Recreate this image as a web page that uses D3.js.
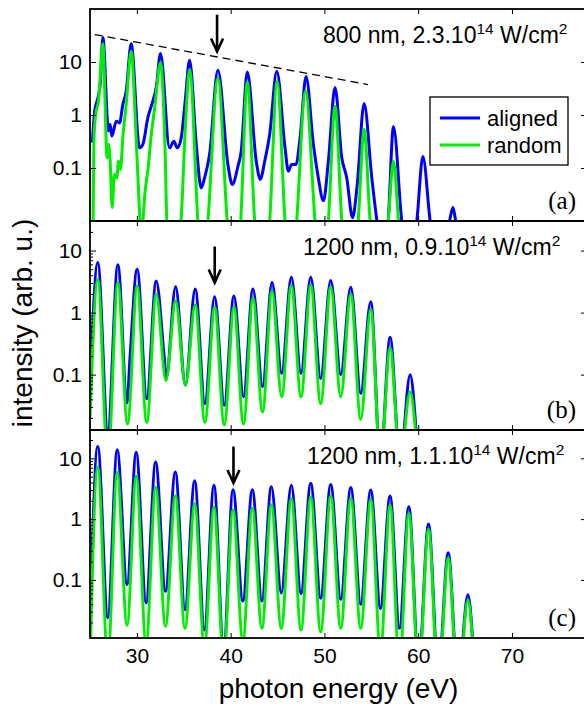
<!DOCTYPE html>
<html>
<head>
<meta charset="utf-8">
<script src="https://cdn.jsdelivr.net/npm/d3@7"></script>
<style>
body { margin: 0; background: #fff; }
text { font-family: "Liberation Sans", Arial, Helvetica, sans-serif; fill: #000; }
</style>
</head>
<body>
<svg id="chart"></svg>
<script>
// photon energy (eV) vs intensity (arb. u.)
const energyTicks = [30, 40, 50, 60, 70];
const intensityTicks = [0.1, 1, 10];
const conditions = ["800 nm, 2.3.10", "1200 nm, 0.9.10", "1200 nm, 1.1.10"];
const panelLetters = ["(a)", "(b)", "(c)"];
const seriesNames = ["aligned", "random"];

// (a) 800 nm
const alignedA = [[25.25,0.3],[25.5,1.2],[25.9,2.3],[26.1,4],[26.37,29],[26.97,0.5],[27.15,0.66],[27.33,0.4],[27.8,0.76],[28.15,0.71],[28.5,1.58],[28.86,2.8],[29.39,22],[30.28,0.24],[30.64,0.28],[31.17,0.89],[31.7,1.82],[32.06,3.26],[32.52,14.5],[33.48,0.24],[33.95,0.32],[34.3,0.24],[34.73,0.37],[35.15,1.82],[35.62,10.8],[36.33,0.28],[36.86,0.042],[37.22,0.065],[37.75,0.18],[38.64,7],[39.71,0.116],[40.17,0.049],[40.78,0.108],[41.13,0.21],[41.77,6.5],[42.73,0.134],[43.16,0.061],[43.63,0.134],[44.16,0.43],[44.92,6.7],[45.8,0.24],[46.15,0.087],[46.5,0.116],[46.97,0.116],[47.4,0.37],[48.04,5.3],[48.82,0.28],[49.35,0.065],[49.89,0.024],[50.42,0.134],[51.13,3.3],[51.85,0.156],[52.38,0.065],[53.0,0.0115],[53.5,0.049],[54.23,1.65],[55.05,0.065],[55.6,0.01],[56.2,0.002],[56.8,0.01],[57.36,0.6],[58.25,0.01],[59.05,0.002],[59.85,0.01],[60.5,0.165],[61.27,0.01],[62.3,0.001],[63.35,0.01],[63.7,0.018],[64.0,0.01],[65,0.001]];
const randomA = [[25.2,0.001],[25.33,0.01],[25.42,0.34],[25.6,1.0],[25.9,1.8],[26.37,22],[26.83,0.156],[26.98,0.28],[27.15,0.134],[27.36,0.018],[27.6,0.075],[27.86,0.065],[28.04,0.134],[28.25,0.094],[28.5,0.37],[28.86,1.58],[29.39,16],[29.92,0.37],[30.28,0.015],[30.45,0.005],[30.9,0.04],[31.2,0.1],[31.5,0.37],[31.9,1.37],[32.52,9.7],[33.02,0.18],[33.2,0.01],[33.6,0.004],[33.95,0.009],[34.3,0.004],[34.7,0.01],[35.15,0.5],[35.62,7.2],[36.5,0.01],[37.0,0.0005],[37.58,0.01],[38.64,4.9],[39.63,0.01],[40.35,0.0005],[41.07,0.01],[41.77,4.2],[42.56,0.01],[43.4,0.0005],[44.16,0.01],[44.95,4.3],[45.8,0.01],[46.4,0.0005],[47.04,0.01],[47.98,2.8],[49.0,0.01],[49.7,0.0005],[50.42,0.01],[51.13,1.47],[51.85,0.01],[52.7,0.0005],[53.6,0.01],[54.23,0.53],[54.87,0.01],[55.8,0.0005],[56.8,0.01],[57.36,0.134],[57.9,0.01],[58.6,0.0005],[65,0.0001]];

// (b) 1200 nm, 0.9e14
const alignedB = [[25.0,0.06],[25.83,6.4],[26.9,0.012],[27.97,5.9],[28.95,0.035],[29.25,0.17],[30.03,5.0],[31.05,0.041],[32.06,3.24],[32.88,0.22],[33.13,0.09],[34.13,2.62],[35.17,0.068],[36.22,2.41],[37.25,0.034],[38.29,1.81],[39.32,0.032],[40.35,1.86],[41.37,0.044],[42.38,2.41],[43.4,0.064],[44.41,3.05],[45.44,0.105],[46.47,3.72],[47.5,0.105],[48.54,3.72],[49.6,0.087],[50.67,3.28],[51.74,0.1],[52.81,2.57],[53.87,0.05],[54.94,1.5],[55.97,0.004],[57.0,0.4],[58.07,0.004],[59.14,0.1],[60.2,0.003],[62,0.001]];
const randomB = [[25.0,0.02],[25.83,3.46],[26.9,0.004],[27.97,3.05],[29.0,0.016],[30.03,2.7],[31.05,0.017],[32.06,1.98],[33.1,0.08],[34.13,1.56],[35.17,0.068],[36.22,1.33],[37.25,0.017],[38.29,1.22],[39.32,0.0155],[40.35,1.22],[41.37,0.016],[42.38,1.7],[43.4,0.025],[44.41,2.24],[45.44,0.044],[46.47,2.72],[47.5,0.044],[48.54,2.75],[49.6,0.034],[50.67,2.62],[51.74,0.044],[52.81,2.0],[53.87,0.019],[54.94,1.13],[55.97,0.004],[57.0,0.27],[58.07,0.004],[59.14,0.053],[60.2,0.003],[62,0.001]];

// (c) 1200 nm, 1.1e14
const alignedC = [[24.9,0.004],[25.83,15.7],[26.9,0.024],[27.9,13.8],[28.95,0.084],[29.93,12.6],[30.98,0.042],[32.0,8.7],[33.05,0.065],[34.1,5.95],[35.13,0.0325],[36.16,4.28],[37.2,0.015],[38.22,3.6],[39.25,0.007],[40.25,3.05],[41.3,0.045],[42.31,3.05],[43.33,0.045],[44.34,3.4],[45.4,0.061],[46.47,3.6],[47.5,0.06],[48.54,3.9],[49.6,0.05],[50.67,3.7],[51.74,0.048],[52.81,3.3],[53.87,0.04],[54.94,3.0],[55.97,0.034],[57.0,2.4],[58.0,0.016],[59.0,1.6],[60.05,0.004],[61.1,0.83],[62.15,0.003],[63.2,0.28],[64.25,0.002],[65.3,0.057],[66.4,0.001],[70,0.0005]];
const randomC = [[24.9,0.001],[25.83,7.1],[26.9,0.005],[27.9,5.9],[28.95,0.018],[29.93,5.06],[30.98,0.009],[32.0,3.33],[33.05,0.0174],[34.1,2.43],[35.13,0.016],[36.16,1.79],[37.2,0.008],[38.22,1.57],[39.25,0.005],[40.25,1.43],[41.3,0.01],[42.31,1.53],[43.33,0.016],[44.34,1.73],[45.4,0.016],[46.47,2.17],[47.5,0.015],[48.54,2.3],[49.6,0.014],[50.67,2.4],[51.74,0.016],[52.81,2.2],[53.87,0.016],[54.94,2.1],[55.97,0.007],[57.0,1.71],[58.0,0.004],[59.0,1.25],[60.05,0.003],[61.1,0.68],[62.15,0.002],[63.2,0.23],[64.25,0.0015],[65.3,0.047],[66.4,0.001],[70,0.0005]];

// arrows: energy, tail and tip intensity
const arrowEnergy = [38.55, 38.3, 40.3];
const arrowTail = [78, 11.6, 15.7];
const arrowTip = [15.8, 3.05, 3.93];
// dashed guide in (a)
const guideEnergy = [25.5, 54.65];
const guideIntensity = [33, 3.76];

const W = 584, H = 706;
const left = 90, right = 587;
const panels = [
	{ top: 9, bottom: 221, yDomain: [0.01, 100], minor: false, textX: 323, aligned: alignedA, random: randomA },
	{ top: 221, bottom: 430, yDomain: [0.0128, 30], minor: true, textX: 303, aligned: alignedB, random: randomB },
	{ top: 430, bottom: 638, yDomain: [0.0111, 29.2], minor: true, textX: 307, aligned: alignedC, random: randomC }
];
const blue = "#0000ff", green = "#00ee00";

const svg = d3.select("#chart").attr("width", W).attr("height", H);

const x = d3.scaleLinear().domain([25, 78]).range([left, right]);

panels.forEach(function (p, i) {
	const y = d3.scaleLog().domain(p.yDomain).range([p.bottom, p.top]);
	const g = svg.append("g");

	const clipId = "clip" + i;
	svg.append("clipPath").attr("id", clipId)
		.append("rect").attr("x", left).attr("y", p.top)
		.attr("width", right - left).attr("height", p.bottom - p.top);

	const line = d3.line()
		.x(function (d) { return x(d[0]); })
		.y(function (d) { return y(d[1]); })
		.curve(d3.curveMonotoneX);

	const plot = g.append("g").attr("clip-path", "url(#" + clipId + ")");
	plot.append("path").datum(p.aligned)
		.attr("d", line).attr("fill", "none").attr("stroke", blue)
		.attr("stroke-width", 3).attr("stroke-linejoin", "round");
	plot.append("path").datum(p.random)
		.attr("d", line).attr("fill", "none").attr("stroke", green)
		.attr("stroke-width", 3).attr("stroke-linejoin", "round");

	// axes, ticks pointing inward
	const yl = g.append("g").attr("transform", "translate(" + left + ",0)")
		.call(d3.axisLeft(y).tickValues(intensityTicks).tickSize(-6).tickPadding(8)
			.tickFormat(function (d) { return String(d); }));
	yl.selectAll("text").style("font-size", "21px");
	g.append("g").attr("transform", "translate(" + right + ",0)")
		.call(d3.axisRight(y).tickValues(intensityTicks).tickSize(-6).tickFormat(""));
	if (p.minor) {
		const minors = [];
		[0.01, 0.1, 1, 10].forEach(function (dec) {
			for (let k = 2; k <= 9; k++) {
				const v = dec * k;
				if (v > p.yDomain[0] && v < p.yDomain[1]) minors.push(v);
			}
		});
		g.append("g").attr("transform", "translate(" + left + ",0)")
			.call(d3.axisLeft(y).tickValues(minors).tickSize(-3).tickFormat(""));
		g.append("g").attr("transform", "translate(" + right + ",0)")
			.call(d3.axisRight(y).tickValues(minors).tickSize(-3).tickFormat(""));
	}
	g.append("g").attr("transform", "translate(0," + p.top + ")")
		.call(d3.axisTop(x).tickValues(energyTicks).tickSize(-5).tickFormat(""));
	const xb = g.append("g").attr("transform", "translate(0," + p.bottom + ")")
		.call(d3.axisBottom(x).tickValues(energyTicks).tickSize(-5).tickPadding(10)
			.tickFormat(i === 2 ? d3.format("d") : ""));
	xb.selectAll("text").style("font-size", "21px");
	g.selectAll(".domain").remove();
	g.selectAll(".tick line").attr("stroke-width", 1);

	g.append("rect").attr("x", left).attr("y", p.top)
		.attr("width", right - left).attr("height", p.bottom - p.top)
		.attr("fill", "none").attr("stroke", "#000").attr("stroke-width", 1.8);

	// condition label
	const t = g.append("text").attr("x", p.textX).attr("y", p.top + 34)
		.style("font-size", "23px");
	t.append("tspan").text(conditions[i]);
	t.append("tspan").attr("dy", -9).style("font-size", "15.5px").text("14");
	t.append("tspan").attr("dy", 9).text(" W/cm");
	t.append("tspan").attr("dy", -9).style("font-size", "15.5px").text("2");

	g.append("text").attr("x", 576).attr("y", p.bottom - 12)
		.attr("text-anchor", "end")
		.style("font-family", "'Liberation Serif', 'Times New Roman', serif")
		.style("font-size", "25px")
		.text(panelLetters[i]);

	// arrow
	const ax = x(arrowEnergy[i]), ay0 = y(arrowTail[i]), ay1 = y(arrowTip[i]);
	g.append("path")
		.attr("d", "M" + ax + "," + ay0 + "L" + ax + "," + ay1 +
			"M" + (ax - 6) + "," + (ay1 - 13) + "L" + ax + "," + ay1 + "L" + (ax + 6) + "," + (ay1 - 13))
		.attr("fill", "none").attr("stroke", "#000").attr("stroke-width", 2.6);

	if (i === 0) {
		g.append("line")
			.attr("x1", x(guideEnergy[0])).attr("y1", y(guideIntensity[0]))
			.attr("x2", x(guideEnergy[1])).attr("y2", y(guideIntensity[1]))
			.attr("stroke", "#000").attr("stroke-width", 1.3)
			.attr("stroke-dasharray", "8,5");

		const lg = g.append("g");
		lg.append("rect").attr("x", 430).attr("y", 97).attr("width", 138).attr("height", 68)
			.attr("fill", "#fff").attr("stroke", "#000").attr("stroke-width", 1.3);
		[blue, green].forEach(function (c, k) {
			const ly = 118 + k * 27;
			lg.append("line").attr("x1", 440).attr("x2", 480).attr("y1", ly).attr("y2", ly)
				.attr("stroke", c).attr("stroke-width", 3);
			lg.append("text").attr("x", 487).attr("y", ly + 8)
				.style("font-size", "22px").text(seriesNames[k]);
		});
	}
});

svg.append("text").attr("x", (left + right) / 2).attr("y", 698)
	.attr("text-anchor", "middle").style("font-size", "28px")
	.text("photon energy (eV)");
svg.append("text").attr("transform", "translate(32,323) rotate(-90)")
	.attr("text-anchor", "middle").style("font-size", "28px")
	.text("intensity (arb. u.)");
</script>
</body>
</html>
